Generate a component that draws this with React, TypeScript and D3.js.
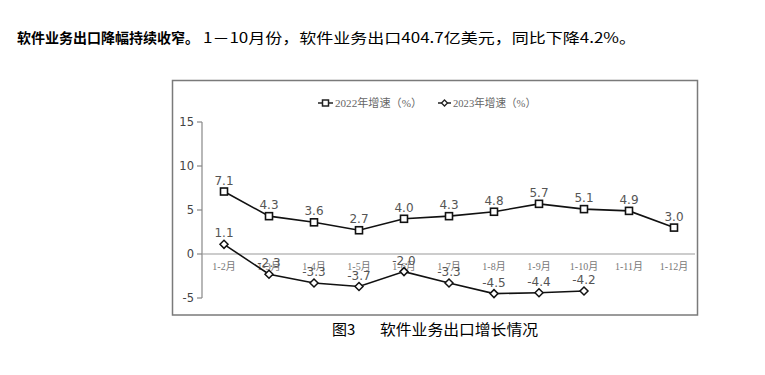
import React from "react";
import * as d3 from "d3";

const categories = ["1-2月", "1-3月", "1-4月", "1-5月", "1-6月", "1-7月", "1-8月", "1-9月", "1-10月", "1-11月", "1-12月"];
const series2022 = [7.1, 4.3, 3.6, 2.7, 4.0, 4.3, 4.8, 5.7, 5.1, 4.9, 3.0];
const series2023 = [1.1, -2.3, -3.3, -3.7, -2.0, -3.3, -4.5, -4.4, -4.2];
const yTicks = [-5, 0, 5, 10, 15];
const legendLabels = ["2022年增速（%）", "2023年增速（%）"];
const titleBold = "软件业务出口降幅持续收窄。";
const titleRest = "1－10月份，软件业务出口404.7亿美元，同比下降4.2%。";
const captionFig = "图3";
const captionText = "软件业务出口增长情况";

const W = 765;
const H = 375;
const CJK = "'Noto Sans CJK SC', 'Noto Sans', sans-serif";
const SERIFISH = "'Liberation Serif', 'Noto Sans CJK SC', serif";
const NUM = "'DejaVu Sans', Verdana, sans-serif";

export default function App() {
  const x = d3.scalePoint<string>().domain(categories).range([224, 674]);
  const y = d3.scaleLinear().domain([-5, 15]).range([298, 122]);
  const line = d3
    .line<number>()
    .x((_, i) => x(categories[i]) as number)
    .y((d) => y(d));

  const axisX = 202;
  const sq = 7;
  const dm = 4;
  const diamond = (cx: number, cy: number, r: number) =>
    `M${cx},${cy - r}L${cx + r},${cy}L${cx},${cy + r}L${cx - r},${cy}Z`;

  return (
    <svg
      width={W}
      height={H}
      style={{ position: "absolute", left: 0, top: 0, display: "block", background: "#fff" }}
    >
      <rect x={0} y={0} width={W} height={H} fill="#fff" />
      {/* title */}
      <text x={17} y={42.5} fontFamily={CJK} fontSize={14} fontWeight="bold" fill="#000" textLength={182} lengthAdjust="spacingAndGlyphs">
        {titleBold}
      </text>
      <text x={203} y={42.5} fontFamily={CJK} fontSize={14} fill="#000" textLength={433} lengthAdjust="spacingAndGlyphs">
        {titleRest}
      </text>

      {/* frame */}
      <rect x={172.5} y={80.5} width={525} height={234.5} fill="none" stroke="#7a7a7a" strokeWidth={1.5} />

      {/* legend */}
      <g>
        <line x1={318} x2={333} y1={103} y2={103} stroke="#222" strokeWidth={1.5} />
        <rect x={322.5} y={100} width={6} height={6} fill="#fff" stroke="#222" strokeWidth={1.5} />
        <text x={335} y={107} fontFamily={SERIFISH} fontSize={11} fill="#666" textLength={87} lengthAdjust="spacingAndGlyphs">
          {legendLabels[0]}
        </text>
        <line x1={438} x2={451} y1={103} y2={103} stroke="#222" strokeWidth={1.5} />
        <path d={diamond(444.5, 103, 3)} fill="#fff" stroke="#222" strokeWidth={1.3} />
        <text x={453} y={107} fontFamily={SERIFISH} fontSize={11} fill="#666" textLength={83} lengthAdjust="spacingAndGlyphs">
          {legendLabels[1]}
        </text>
      </g>

      {/* y axis */}
      <line x1={axisX} x2={axisX} y1={y(15)} y2={y(-5)} stroke="#888" strokeWidth={1.2} />
      {yTicks.map((t) => (
        <g key={t}>
          <line x1={axisX - 5} x2={axisX} y1={y(t)} y2={y(t)} stroke="#888" strokeWidth={1.2} />
          <text x={194} y={y(t) + 4} textAnchor="end" fontFamily={NUM} fontSize={11.5} fill="#444">
            {t}
          </text>
        </g>
      ))}

      {/* zero line */}
      <line x1={axisX} x2={695} y1={y(0)} y2={y(0)} stroke="#999" strokeWidth={1.2} />

      {/* x labels */}
      {categories.map((c) => (
        <text key={c} x={x(c) as number} y={y(0) + 16} textAnchor="middle" fontFamily={SERIFISH} fontSize={10} fill="#777">
          {c}
        </text>
      ))}

      {/* lines */}
      <path d={line(series2022) || ""} fill="none" stroke="#111" strokeWidth={1.6} />
      <path d={line(series2023) || ""} fill="none" stroke="#111" strokeWidth={1.6} />

      {/* markers 2022 */}
      {series2022.map((v, i) => {
        const cx = x(categories[i]) as number;
        const cy = y(v);
        return (
          <g key={"a" + i}>
            <rect x={cx - sq / 2} y={cy - sq / 2} width={sq} height={sq} fill="#fff" stroke="#111" strokeWidth={1.6} />
            <text x={cx} y={cy - 7} textAnchor="middle" fontFamily={NUM} fontSize={12} fill="#555">
              {v.toFixed(1)}
            </text>
          </g>
        );
      })}

      {/* markers 2023 */}
      {series2023.map((v, i) => {
        const cx = x(categories[i]) as number;
        const cy = y(v);
        return (
          <g key={"b" + i}>
            <path d={diamond(cx, cy, dm)} fill="#fff" stroke="#111" strokeWidth={1.5} />
            <text x={cx} y={cy - 7} textAnchor="middle" fontFamily={NUM} fontSize={12} fill="#555">
              {v.toFixed(1)}
            </text>
          </g>
        );
      })}

      {/* caption */}
      <text x={332} y={335} fontFamily={CJK} fontSize={15} fill="#000">
        {captionFig}
      </text>
      <text x={380} y={335} fontFamily={CJK} fontSize={15} fill="#000" textLength={158} lengthAdjust="spacingAndGlyphs">
        {captionText}
      </text>
    </svg>
  );
}
